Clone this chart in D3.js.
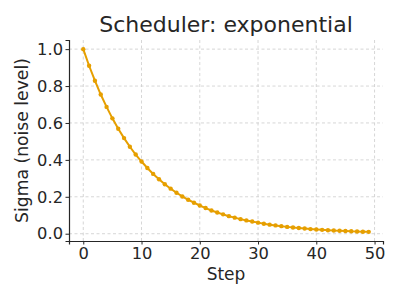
<!DOCTYPE html>
<html>
<head>
<meta charset="utf-8">
<script src="https://cdn.jsdelivr.net/npm/d3@7"></script>
<style>
  body { margin: 0; background: #fff; }
  text { font-family: "DejaVu Sans", sans-serif; fill: #262626; }
</style>
</head>
<body>
<div id="chart"></div>
<script>
// données
const steps = d3.range(50);
const sigmas = [
  1.000, 0.910, 0.829, 0.754, 0.687, 0.625, 0.569, 0.518, 0.471, 0.429,
  0.391, 0.356, 0.324, 0.295, 0.268, 0.244, 0.222, 0.202, 0.184, 0.168,
  0.153, 0.139, 0.126, 0.115, 0.105, 0.095, 0.087, 0.079, 0.072, 0.066,
  0.060, 0.054, 0.049, 0.045, 0.041, 0.037, 0.034, 0.031, 0.028, 0.025,
  0.023, 0.021, 0.019, 0.017, 0.016, 0.015, 0.013, 0.012, 0.011, 0.010
];
const xTicks = [0, 10, 20, 30, 40, 50];
const yTicks = [0.0, 0.2, 0.4, 0.6, 0.8, 1.0];

const lineColor = "#E69F00";
const gridColor = "#cccccc";

const width = 400, height = 300;
const margin = {top: 40, right: 17, bottom: 59, left: 69};

const svg = d3.select('#chart').append('svg')
  .attr('width', width)
  .attr('height', height);

const x = d3.scaleLinear()
  .domain([-2.45, 51.45])
  .range([margin.left, width - margin.right]);

const y = d3.scaleLinear()
  .domain([-0.0395, 1.0495])
  .range([height - margin.bottom, margin.top]);

// grille
svg.append('g').selectAll('line')
  .data(xTicks)
  .join('line')
  .attr('x1', d => x(d)).attr('x2', d => x(d))
  .attr('y1', margin.top).attr('y2', height - margin.bottom)
  .attr('stroke', gridColor).attr('stroke-width', 0.8)
  .attr('stroke-dasharray', '3,2.5');

svg.append('g').selectAll('line')
  .data(yTicks)
  .join('line')
  .attr('y1', d => y(d)).attr('y2', d => y(d))
  .attr('x1', margin.left).attr('x2', width - margin.right)
  .attr('stroke', gridColor).attr('stroke-width', 0.8)
  .attr('stroke-dasharray', '3,2.5');

// axes
const xAxis = svg.append('g')
  .attr('transform', `translate(0, ${height - margin.bottom})`)
  .call(d3.axisBottom(x).tickValues(xTicks).tickSize(3.5).tickPadding(3).tickFormat(d3.format('d')));

const yAxis = svg.append('g')
  .attr('transform', `translate(${margin.left}, 0)`)
  .call(d3.axisLeft(y).tickValues(yTicks).tickSize(3.5).tickPadding(2.5).tickFormat(d3.format('.1f')));

[xAxis, yAxis].forEach(g => {
  g.select('.domain').attr('stroke', '#262626').attr('stroke-width', 1.2);
  g.selectAll('.tick line').attr('stroke', '#262626').attr('stroke-width', 1);
  g.selectAll('.tick text').style('font-size', '16.3px').attr('fill', '#262626')
    .style('font-family', '"DejaVu Sans", sans-serif');
});

// courbe
const line = d3.line()
  .x((d, i) => x(steps[i]))
  .y(d => y(d));

svg.append('path')
  .datum(sigmas)
  .attr('d', line)
  .attr('fill', 'none')
  .attr('stroke', lineColor)
  .attr('stroke-width', 2);

svg.append('g').selectAll('circle')
  .data(sigmas)
  .join('circle')
  .attr('cx', (d, i) => x(steps[i]))
  .attr('cy', d => y(d))
  .attr('r', 2.2)
  .attr('fill', lineColor);

// titres
svg.append('text')
  .attr('x', (margin.left + width - margin.right) / 2)
  .attr('y', 32)
  .attr('text-anchor', 'middle')
  .style('font-size', '22px')
  .text('Scheduler: exponential');

svg.append('text')
  .attr('x', (margin.left + width - margin.right) / 2)
  .attr('y', 280)
  .attr('text-anchor', 'middle')
  .style('font-size', '17px')
  .text('Step');

svg.append('text')
  .attr('transform', `translate(28, ${(margin.top + height - margin.bottom) / 2}) rotate(-90)`)
  .attr('text-anchor', 'middle')
  .style('font-size', '17.2px')
  .text('Sigma (noise level)');
</script>
</body>
</html>
